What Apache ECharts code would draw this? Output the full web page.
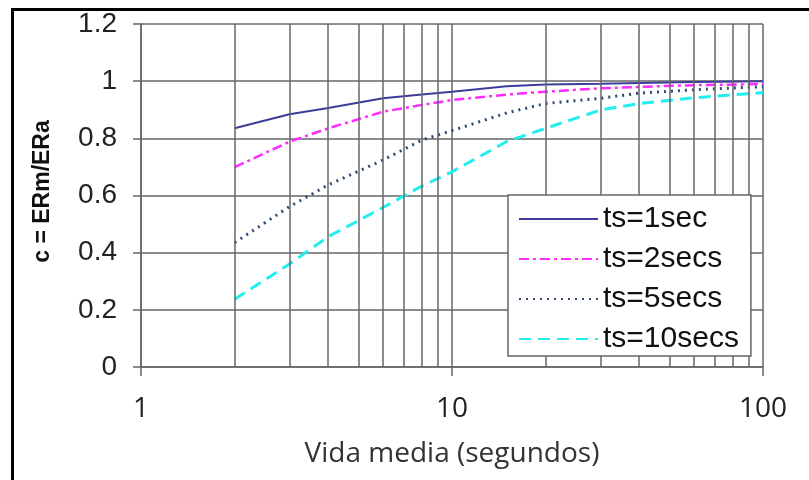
<!DOCTYPE html>
<html>
<head>
<meta charset="utf-8">
<script src="https://cdn.jsdelivr.net/npm/echarts@6/dist/echarts.min.js"></script>
<style>html,body{margin:0;padding:0;background:#fff}#c{width:809px;height:480px}</style>
</head>
<body>
<div id="c"></div>
<script>
var xValues = [2, 3, 4, 6, 8, 10, 15, 20, 30, 40, 60, 100];
var ts1 = [0.835, 0.884, 0.906, 0.94, 0.953, 0.963, 0.982, 0.988, 0.991, 0.994, 0.997, 1.0];
var ts2 = [0.699, 0.788, 0.835, 0.893, 0.917, 0.934, 0.953, 0.963, 0.975, 0.980, 0.986, 0.990];
var ts5 = [0.435, 0.561, 0.637, 0.724, 0.794, 0.827, 0.889, 0.922, 0.940, 0.958, 0.970, 0.981];
var ts10 = [0.237, 0.360, 0.456, 0.558, 0.633, 0.683, 0.789, 0.835, 0.899, 0.922, 0.942, 0.960];
var seriesNames = ['ts=1sec', 'ts=2secs', 'ts=5secs', 'ts=10secs'];
var minorGridX = [2, 3, 4, 5, 6, 7, 8, 9, 20, 30, 40, 50, 60, 70, 80, 90];
var yTicks = [0, 0.2, 0.4, 0.6, 0.8, 1, 1.2];

function pairs(ys) { return xValues.map(function (x, i) { return [x, ys[i]]; }); }

var gridColor = '#666666';
var chart = echarts.init(document.getElementById('c'), null, {renderer: 'canvas'});
var styles = [
  {color: '#3d3d99', width: 2, type: 'solid'},
  {color: '#ff2cff', width: 2.5, type: [10, 4, 3, 4]},
  {color: '#2e4a72', width: 3, type: [2, 5]},
  {color: '#22eeee', width: 3, type: [12, 7]}
];
var dataSets = [ts1, ts2, ts5, ts10];
var series = dataSets.map(function (d, i) {
  return {
    name: seriesNames[i], type: 'line', data: pairs(d), symbol: 'none', showSymbol: false,
    smooth: false, silent: true, z: 3,
    lineStyle: {color: styles[i].color, width: styles[i].width, type: styles[i].type},
    itemStyle: {color: styles[i].color}
  };
});
series.push({
  name: 'grid', type: 'line', data: [], silent: true, z: 1,
  markLine: {
    silent: true, symbol: 'none', label: {show: false},
    lineStyle: {color: gridColor, width: 1.5, type: 'solid'},
    data: minorGridX.map(function (v) { return {xAxis: v}; })
  }
});

chart.setOption({
  animation: false,
  backgroundColor: '#fff',
  graphic: [{
    type: 'rect', left: 10, top: 7, shape: {width: 820, height: 500},
    style: {fill: 'none', stroke: '#000', lineWidth: 3}, z: 100
  }],
  grid: {left: 141, right: 46, top: 24, bottom: 113, containLabel: false},
  xAxis: {
    type: 'log', logBase: 10, min: 1, max: 100,
    name: 'Vida media (segundos)', nameLocation: 'middle', nameGap: 73,
    nameTextStyle: {fontFamily: 'Open Sans', fontSize: 28, color: '#333'},
    axisLine: {show: true, lineStyle: {color: gridColor, width: 1.5}},
    axisTick: {show: true, length: 9, lineStyle: {color: gridColor, width: 1.5}},
    axisLabel: {fontFamily: 'Open Sans', fontSize: 28, color: '#222', margin: 28},
    splitLine: {show: true, lineStyle: {color: gridColor, width: 1.5}},
    minorTick: {show: false}, minorSplitLine: {show: false}
  },
  yAxis: {
    type: 'value', min: 0, max: 1.2, interval: 0.2,
    name: 'c = ERm/ERa', nameLocation: 'middle', nameGap: 87,
    nameTextStyle: {fontFamily: 'Liberation Sans', fontSize: 23, fontWeight: 'bold', color: '#111', padding: [0, 0, 0, 8]},
    axisLine: {show: true, lineStyle: {color: gridColor, width: 1.5}},
    axisTick: {show: true, length: 8, lineStyle: {color: gridColor, width: 1.5}},
    axisLabel: {fontFamily: 'Liberation Sans', fontSize: 28, color: '#222', margin: 24,
      formatter: function (v) { return String(Math.round(v * 10) / 10); }},
    splitLine: {show: true, lineStyle: {color: gridColor, width: 1.5}}
  },
  legend: {
    data: seriesNames, orient: 'vertical', left: 508, top: 195,
    padding: [9, 12, 2, 10], itemGap: 10, itemWidth: 79, itemHeight: 14,
    itemStyle: {opacity: 0},
    backgroundColor: '#fff', borderColor: '#666', borderWidth: 1.5, borderRadius: 0,
    textStyle: {fontFamily: 'Liberation Sans', fontSize: 30, color: '#111'},
    selectedMode: false, z: 10
  },
  series: series
});
</script>
</body>
</html>
